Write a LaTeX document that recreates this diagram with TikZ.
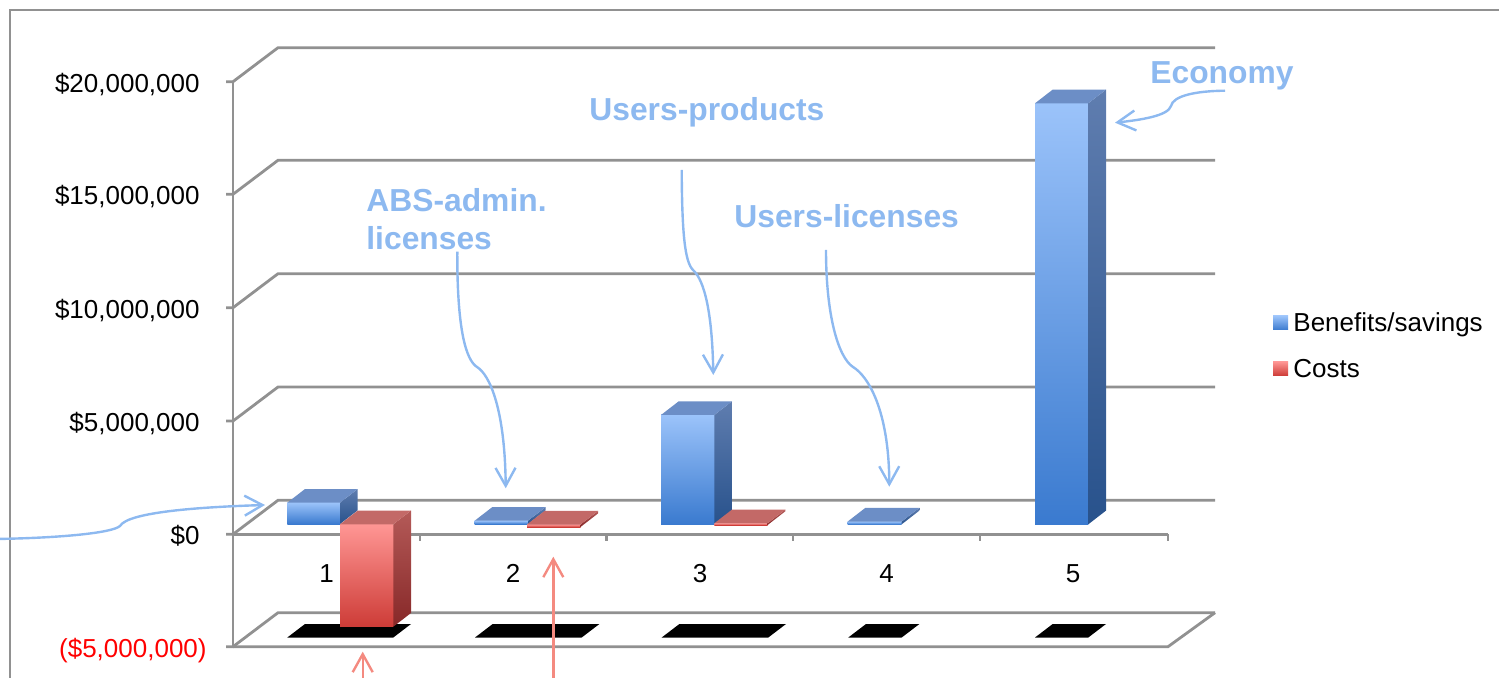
\documentclass[tikz,border=0pt]{standalone}
\usepackage{fontspec}
\setmainfont{Liberation Sans}
\usetikzlibrary{arrows.meta}
\definecolor{gridc}{RGB}{145,145,145}
\definecolor{annb}{RGB}{141,185,240}
\definecolor{annr}{RGB}{244,138,128}
\definecolor{bft}{RGB}{155,195,250}
\definecolor{bfb}{RGB}{58,122,207}
\definecolor{bst}{RGB}{95,125,175}
\definecolor{bsb}{RGB}{40,82,140}
\definecolor{btp}{RGB}{108,142,198}
\definecolor{rft}{RGB}{255,150,148}
\definecolor{rfb}{RGB}{205,60,55}
\definecolor{rst}{RGB}{180,90,88}
\definecolor{rsb}{RGB}{135,40,40}
\definecolor{rtp}{RGB}{195,105,103}
\newcommand\cuboid[5]{%
  \shade[top color=#5ft,bottom color=#5fb] (#1,#3) rectangle (#2,#4);
  \shade[top color=#5st,bottom color=#5sb] (#2,#3) -- ++(17.7,-13.7) -- ++(0,{#4-#3}) -- (#2,#4) -- cycle;
  \fill[#5tp] (#1,#3) -- ++(17.7,-13.7) -- ++({#2-#1},0) -- (#2,#3) -- cycle;
}
\newcommand\shadowpar[2]{%
  \fill[black] (#1,637.5) -- (#2,637.5) -- ({#2+17.7},624) -- ({#1+17.7},624) -- cycle;
}
\begin{document}
\begin{tikzpicture}[x=0.5pt,y=-0.5pt,
  grid/.style={draw=gridc,line width=1.4pt},
  ann/.style={text=annb,font=\fontsize{15.9}{18.6}\selectfont\bfseries,inner sep=0pt},
  annarrow/.style={draw=annb,line width=1.2pt,-{Straight Barb[length=9pt,width=10pt]}},
  redarrow/.style={draw=annr,line width=1.2pt,-{Straight Barb[length=9pt,width=10pt]}},
  ylab/.style={font=\fontsize{13}{15.6}\selectfont,inner sep=0pt,anchor=base east},
  xlab/.style={font=\fontsize{13}{15.6}\selectfont,inner sep=0pt,anchor=base},
  leg/.style={font=\fontsize{13}{15.6}\selectfont,inner sep=0pt,anchor=base west},
]
\useasboundingbox (0,0) rectangle (1499,678);
% outer frame
\draw[grid] (10,690) -- (10,10) -- (1510,10);
% grid / walls
\foreach \yy in {81.7,194.3,307.7,421,534.3,646.7}
  \draw[grid] (226,\yy) -- (233,\yy) -- (278,{\yy-34}) -- (1215,{\yy-34});
\draw[grid] (233,81.7) -- (233,646.7);
\draw[grid] (233,534.3) -- (1168,534.3);
\foreach \xx in {420,606.7,793,980,1168}
  \draw[grid] (\xx,534.3) -- (\xx,541);
\draw[grid] (233,646.7) -- (1168,646.7) -- (1215,612.7);
% shadows on floor
\shadowpar{287.3}{393.3}
\shadowpar{475}{581.7}
\shadowpar{661.7}{768.3}
\shadowpar{848.3}{901.7}
\shadowpar{1035}{1088.3}
% bars
\cuboid{287.3}{340}{502.7}{524}{b}
\cuboid{340}{393.3}{524.3}{626.7}{r}
\cuboid{474.7}{528}{520.7}{524}{b}
\cuboid{527}{580.5}{524.5}{527}{r}
\cuboid{661}{714.3}{415}{524.3}{b}
\cuboid{714.3}{767.6}{523.3}{525}{r}
\cuboid{847.7}{901.7}{521.5}{524.3}{b}
\cuboid{1035}{1088.3}{103.3}{524.3}{b}
% axis labels
\node[ylab] (y20) at (200,92.2) {\$20,000,000};
\node[ylab] (y15) at (200,204.8) {\$15,000,000};
\node[ylab] (y10) at (200,318.2) {\$10,000,000};
\node[ylab] (y5) at (200,431.5) {\$5,000,000};
\node[ylab] (y0) at (200,544.3) {\$0};
\node[ylab,text=red] (ym5) at (207,657.2) {(\$5,000,000)};
\node[xlab] (c1) at (326.5,582.7) {1};
\node[xlab] (c2) at (513,582.7) {2};
\node[xlab] (c3) at (700,582.7) {3};
\node[xlab] (c4) at (886.5,582.7) {4};
\node[xlab] (c5) at (1073,582.7) {5};
% legend
\shade[top color=bft,bottom color=bfb] (1273,316) rectangle (1288,330);
\shade[top color=rft,bottom color=rfb] (1273,361.7) rectangle (1288,375.7);
\node[leg] (lb) at (1293,331.7) {Benefits/savings};
\node[leg] (lr) at (1293,377.7) {Costs};
% annotations
\node[ann,anchor=base west] (econ) at (1150,83.3) {Economy};
\node[ann,anchor=base west] (uprod) at (589,120.7) {Users-products};
\node[ann,anchor=base west] (ulic) at (734,227.3) {Users-licenses};
\node[ann,anchor=north west,align=left] (abs) at (366,188.5) {ABS-admin.\\licenses};
\coordinate (econS) at (1225,90.7);
\coordinate (econT) at (1115,122.7);
\coordinate (uprodS) at (681.7,170);
\coordinate (uprodT) at (713.3,375);
\coordinate (ulicS) at (826,250);
\coordinate (ulicT) at (889.3,486.7);
\coordinate (absS) at (457.3,251.7);
\coordinate (absT) at (505.7,488.3);
\coordinate (leftS) at (-5,539);
\coordinate (leftT) at (265,505);
\coordinate (r1S) at (362.7,685);
\coordinate (r1T) at (362.7,651.7);
\coordinate (r2S) at (553.3,685);
\coordinate (r2T) at (553.3,556.7);
\draw[annarrow] (econS) .. controls (1195,91) and (1173,96) .. (1171,106) .. controls (1168,116) and (1140,120) .. (econT);
\draw[annarrow] (uprodS) .. controls (682,235) and (685,262) .. (693,270) .. controls (701,277) and (712,300) .. (uprodT);
\draw[annarrow] (ulicS) .. controls (826,315) and (838,357) .. (853,367) .. controls (868,376) and (889,410) .. (ulicT);
\draw[annarrow] (absS) .. controls (457,330) and (466,360) .. (477,367) .. controls (490,375) and (505,410) .. (absT);
\draw[annarrow] (leftS) .. controls (60,538) and (112,533) .. (120,526) .. controls (128,512) and (200,507) .. (leftT);
\draw[redarrow] (r1S) -- (r1T);
\draw[redarrow] (r2S) -- (r2T);
\end{tikzpicture}
\end{document}
